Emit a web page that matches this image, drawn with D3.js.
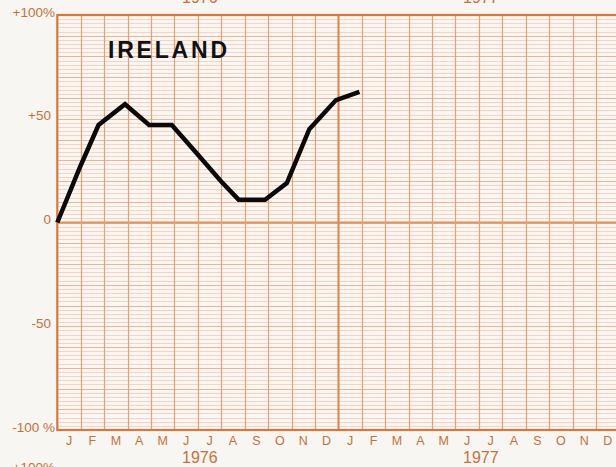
<!DOCTYPE html>
<html>
<head>
<meta charset="utf-8">
<script src="https://cdn.jsdelivr.net/npm/d3@7"></script>
<style>
  body { margin: 0; background: #f7f6f3; }
  svg { display: block; }
  .ylab, .mlab, .yrlab { fill: #c9703a; font-family: "Liberation Sans", Arial, sans-serif; }
</style>
</head>
<body>
<div id="chart"></div>
<script>
// months from Jan 1976 where each hand-drawn point sits, and the % value there
var pointMonths = [0, 0.98, 1.76, 2.89, 3.92, 4.89, 5.98, 6.98, 7.74, 8.87, 9.80, 10.76, 11.90, 12.9];
var pointValues = [0, 27, 47, 57, 47, 47, 33, 20, 11, 11, 19, 45, 59, 63];

var monthLetters = ["J", "F", "M", "A", "M", "J", "J", "A", "S", "O", "N", "D"];
var years = ["1976", "1977"];
var yTicks = [100, 50, 0, -50, -100];
var yTickLabels = ["+100%", "+50", "0", "-50", "-100 %"];
var country = "IRELAND";

var width = 616, height = 467;
var plotLeft = 57.3, plotTop = 15, plotBottom = 430, monthW = 23.42;

var x = d3.scaleLinear().domain([0, 24]).range([plotLeft, plotLeft + 24 * monthW]);
var y = d3.scaleLinear().domain([-100, 100]).range([plotBottom, plotTop]);

var svg = d3.select("#chart").append("svg")
    .attr("width", width)
    .attr("height", height);

// plot paper
svg.append("rect")
    .attr("x", x(0)).attr("y", y(100))
    .attr("width", x(24) - x(0)).attr("height", y(-100) - y(100))
    .style("fill", "#fcf6f2");

// horizontal rules every 2%, a bit darker every 10%
var hLines = d3.range(-98, 100, 2);
svg.selectAll(".hline")
    .data(hLines)
  .enter().append("line")
    .attr("class", "hline")
    .attr("x1", x(0)).attr("x2", x(24))
    .attr("y1", function(d){ return Math.round(y(d)) + 0.5; })
    .attr("y2", function(d){ return Math.round(y(d)) + 0.5; })
    .style("stroke", function(d){ return d % 10 == 0 ? "#ecb597" : "#f3d5c6"; })
    .style("stroke-width", 1);

svg.append("line")
    .attr("x1", x(0)).attr("x2", x(24))
    .attr("y1", y(0)).attr("y2", y(0))
    .style("stroke", "#df915c")
    .style("stroke-width", 2);

// month rules
svg.selectAll(".vline")
    .data(d3.range(1, 24))
  .enter().append("line")
    .attr("class", "vline")
    .attr("x1", function(d){ return Math.round(x(d)) + 0.5; })
    .attr("x2", function(d){ return Math.round(x(d)) + 0.5; })
    .attr("y1", y(100)).attr("y2", y(-100))
    .style("stroke", function(d){ return d == 12 ? "#d8844a" : "#e2a077"; })
    .style("stroke-width", function(d){ return d == 12 ? 2 : 1.2; });

// frame
svg.append("rect")
    .attr("x", x(0)).attr("y", y(100))
    .attr("width", x(24) - x(0)).attr("height", y(-100) - y(100))
    .style("fill", "none")
    .style("stroke", "#d6783d")
    .style("stroke-width", 2.2);

// y labels
svg.selectAll(".ylab")
    .data(yTicks)
  .enter().append("text")
    .attr("class", "ylab")
    .attr("x", function(d, i){ return (i == 0 || i == 4) ? 55 : 51; })
    .attr("y", function(d){ return y(d) - 3; })
    .attr("dy", "0.35em")
    .attr("text-anchor", "end")
    .style("font-size", "13.5px")
    .text(function(d, i){ return yTickLabels[i]; });

// month letters under both years
svg.selectAll(".mlab")
    .data(d3.range(24))
  .enter().append("text")
    .attr("class", "mlab")
    .attr("x", function(d){ return x(d + 0.5); })
    .attr("y", 445)
    .attr("text-anchor", "middle")
    .style("font-size", "12.5px")
    .text(function(d){ return monthLetters[d % 12]; });

svg.selectAll(".yrlab")
    .data(years)
  .enter().append("text")
    .attr("class", "yrlab")
    .attr("x", function(d, i){ return x(i * 12 + 6) + 2; })
    .attr("y", 463)
    .attr("text-anchor", "middle")
    .style("font-size", "16px")
    .text(function(d){ return d; });

// bits of the neighbouring charts above and below
svg.selectAll(".yrtop")
    .data(years)
  .enter().append("text")
    .attr("class", "yrlab yrtop")
    .attr("x", function(d, i){ return x(i * 12 + 6) + 2; })
    .attr("y", 3)
    .attr("text-anchor", "middle")
    .style("font-size", "16px")
    .text(function(d){ return d; });

svg.append("text")
    .attr("class", "ylab")
    .attr("x", 55)
    .attr("y", 472)
    .attr("text-anchor", "end")
    .style("font-size", "13.5px")
    .text(yTickLabels[0]);

// title
svg.append("text")
    .attr("x", 108)
    .attr("y", 58)
    .style("font-family", "'Liberation Sans', Arial, sans-serif")
    .style("font-weight", "bold")
    .style("font-size", "23px")
    .style("letter-spacing", "2.8px")
    .style("fill", "#111")
    .text(country);

// the line
var line = d3.line()
    .x(function(d, i){ return x(pointMonths[i]); })
    .y(function(d){ return y(d); });

svg.append("path")
    .datum(pointValues)
    .attr("d", line)
    .style("fill", "none")
    .style("stroke", "#0a0a0a")
    .style("stroke-width", 4.5)
    .style("stroke-linejoin", "miter");
</script>
</body>
</html>
